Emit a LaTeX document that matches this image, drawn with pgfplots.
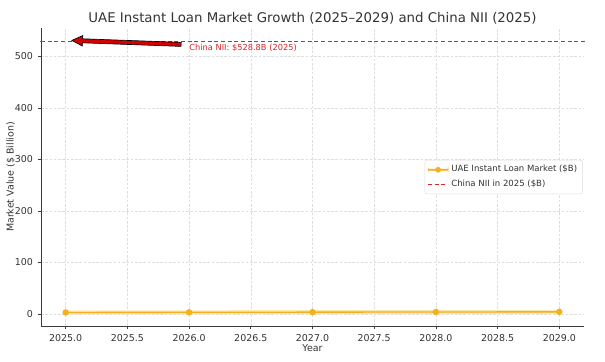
\documentclass[border=0pt]{standalone}
\usepackage{fontspec}
\setmainfont{DejaVu Sans}
\usepackage{pgfplots}
\pgfplotsset{compat=1.18}
\definecolor{uae}{RGB}{245,176,30}
\definecolor{halo}{RGB}{253,232,170}
\definecolor{nii}{RGB}{214,39,40}
\definecolor{gridc}{RGB}{222,222,222}
\definecolor{axc}{RGB}{60,60,60}
\definecolor{txt}{RGB}{51,51,51}
\begin{document}
\begin{tikzpicture}
\useasboundingbox (-30.75pt,-26.25pt) rectangle (423pt,244.5pt);
\begin{axis}[
  at={(0,0)}, anchor=south west,
  scale only axis, width=407.25pt, height=223.5pt,
  xmin=2024.8, xmax=2029.2, ymin=-23.3, ymax=555.1,
  axis lines*=left,
  axis line style={draw=axc, line width=0.6pt},
  xtick={2025,2025.5,...,2029}, ytick={0,100,...,500},
  xticklabel={\pgfmathprintnumber[fixed,fixed zerofill,precision=1,1000 sep={}]{\tick}},
  yticklabel={\pgfmathprintnumber[fixed,precision=0,1000 sep={}]{\tick}},
  /pgf/number format/assume math mode=true,
  tick align=outside, major tick length=2.6pt,
  tick style={draw=axc, line width=0.6pt},
  ticklabel style={font=\fontsize{7.1pt}{8pt}\selectfont, text=txt},
  grid=major, major grid style={draw=gridc, line width=0.35pt, dash pattern=on 2pt off 1.2pt},
  xlabel={Year}, ylabel={Market Value (\$ Billion)},
  label style={font=\fontsize{7.1pt}{8pt}\selectfont, text=txt},
  xlabel style={at={(axis description cs:0.5,0)}, anchor=north, yshift=-10.5pt},
  ylabel style={at={(axis description cs:0,0.5)}, anchor=south, yshift=16pt},
  title={UAE Instant Loan Market Growth (2025–2029) and China NII (2025)},
  title style={font=\fontsize{10pt}{11.5pt}\selectfont, text=txt, at={(axis description cs:0.5,1)}, anchor=base, inner sep=0pt, yshift=-2.25pt},
  legend style={at={(1,0.5)}, anchor=east, xshift=-1pt, draw=gridc, rounded corners=1.5pt, fill=white,
    font=\fontsize{6.4pt}{7.2pt}\selectfont, text=txt, inner sep=2pt, row sep=0.5pt, cells={anchor=west}},
  clip=false,
]
\addplot[color=halo, line width=3pt, forget plot] coordinates {(2025,3.0) (2026,3.3) (2027,3.6) (2028,3.9) (2029,4.2)};
\addplot[color=uae, line width=1pt, mark=*, mark size=1.9pt, mark options={fill=uae, draw=uae}] coordinates {(2025,3.0) (2026,3.3) (2027,3.6) (2028,3.9) (2029,4.2)};
\addplot[color=nii, line width=0.8pt, dash pattern=on 3pt off 2pt, mark=*, mark size=0.1pt, mark options={solid, fill=nii, draw=nii}, forget plot] coordinates {(2024.8,528.8) (2029.2,528.8)};
\legend{}
\end{axis}
\begin{axis}[
  at={(0,0)}, anchor=south west,
  scale only axis, width=407.25pt, height=223.5pt,
  xmin=2024.8, xmax=2029.2, ymin=-23.3, ymax=555.1,
  hide axis,
  legend style={at={(1,0.5)}, anchor=east, xshift=-1pt, draw=gridc, rounded corners=1.5pt, fill=white,
    font=\fontsize{6.4pt}{7.2pt}\selectfont, text=txt, inner sep=2pt, row sep=0.5pt, cells={anchor=west}},
  clip=false,
]
\addlegendimage{legend image code/.code={\fill[uae] (0pt,-0.5pt) rectangle (15pt,0.5pt); \fill[uae] (7.5pt,0pt) circle (1.9pt);}}
\addlegendentry{UAE Instant Loan Market (\$B)}
\addlegendimage{legend image code/.code={\draw[color=nii, line width=0.8pt, dash pattern=on 3pt off 2pt] (0pt,0pt) -- (15pt,0pt);}}
\addlegendentry{China NII in 2025 (\$B)}
\draw[fill={rgb,255:red,215;green,0;blue,0}, draw=black, line width=0.5pt, line join=miter]
  (axis cs:2025.05,531) -- +(8.136pt,3.607pt) -- +(8.049pt,1.209pt) -- +(82pt,-1.478pt) -- +(81.89pt,-4.476pt) -- +(7.94pt,-1.789pt) -- +(7.853pt,-4.187pt) -- cycle;
\node[anchor=west, text=nii, font=\fontsize{6.2pt}{7pt}\selectfont, inner sep=0pt] at (axis cs:2026.0,517) {China NII: \$528.8B (2025)};
\end{axis}
\end{tikzpicture}
\end{document}
